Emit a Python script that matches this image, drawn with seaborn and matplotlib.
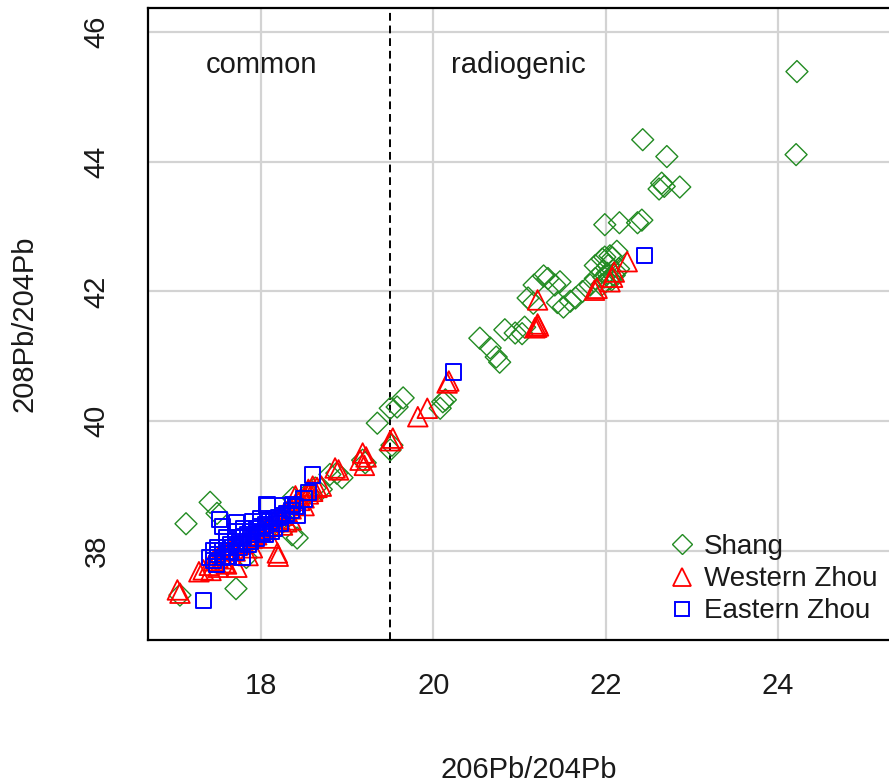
import matplotlib
matplotlib.use("Agg")
import matplotlib.pyplot as plt
import seaborn as sns
import pandas as pd
from matplotlib.lines import Line2D

# ---------------- data ----------------
shang_x = [17.41, 17.13, 17.06, 17.71, 17.49, 17.83, 18.36, 18.42, 17.95, 18.10,
           18.25, 18.37, 18.63, 18.88, 18.94, 18.80, 19.21, 19.18, 19.50, 19.52,
           19.35, 19.50, 19.58, 19.65, 20.08, 20.11, 20.14, 18.55, 18.70,
           20.54, 20.66, 20.73, 20.77, 20.83, 20.95, 21.03, 21.06, 21.10, 21.17,
           21.28, 21.33, 21.41, 21.47, 21.44, 21.51, 21.59, 21.65, 21.73, 21.82,
           21.88, 21.96, 22.03, 22.08, 21.88, 21.96, 21.16,
           22.00, 22.05, 22.10, 22.12, 22.15, 21.95, 22.02, 22.07, 21.98,
           21.99, 22.16, 22.37, 22.42, 21.99, 22.13, 22.05,
           22.43, 22.71, 22.65, 22.68, 22.86, 22.62, 24.22, 24.21]
shang_y = [38.75, 38.42, 37.32, 37.42, 38.58, 37.90, 38.25, 38.20, 38.20, 38.35,
           38.50, 38.82, 38.97, 39.20, 39.13, 39.18, 39.36, 39.40, 39.56, 39.63,
           39.97, 40.20, 40.22, 40.36, 40.20, 40.30, 40.33, 38.90, 38.95,
           41.28, 41.13, 40.99, 40.91, 41.41, 41.36, 41.35, 41.45, 41.90, 42.10,
           42.24, 42.20, 42.10, 42.15, 41.83, 41.76, 41.85, 41.90, 42.00, 42.10,
           42.20, 42.30, 42.40, 42.52, 42.40, 42.50, 41.82,
           42.15, 42.20, 42.25, 42.30, 42.35, 42.10, 42.28, 42.18, 42.22,
           43.03, 43.06, 43.06, 43.10, 42.53, 42.62, 42.55,
           44.34, 44.08, 43.67, 43.62, 43.61, 43.58, 45.39, 44.11]

wzhou_x = [17.03, 17.06, 17.33, 17.28, 17.72, 17.85, 18.19, 18.20,
           17.40, 17.45, 17.50, 17.55, 17.60, 17.65, 17.70, 17.75, 17.80, 17.85,
           17.90, 17.95, 18.00, 18.05, 18.10, 18.15, 18.20, 18.25, 18.30, 18.35,
           18.40, 18.45, 18.50, 18.55, 18.60, 18.65, 18.70, 18.55, 18.60, 18.50,
           18.30, 18.10, 17.90, 17.60, 17.50, 18.40, 18.25, 17.42, 17.58, 18.35,
           18.86, 19.18, 19.22, 19.15, 19.20, 18.90, 19.53, 19.50, 19.82, 19.93,
           20.16, 20.18,
           21.21, 21.20, 21.22, 21.18, 21.21, 21.87, 21.90, 22.08, 22.05, 22.25, 22.10]
wzhou_y = [37.40, 37.35, 37.71, 37.68, 37.75, 37.93, 37.97, 37.92,
           37.78, 37.85, 37.90, 37.88, 37.95, 38.02, 38.00, 38.10, 38.12, 38.18,
           38.20, 38.25, 38.30, 38.35, 38.38, 38.45, 38.50, 38.55, 38.60, 38.65,
           38.72, 38.78, 38.82, 38.88, 38.92, 38.98, 39.00, 38.95, 39.00, 38.70,
           38.45, 38.20, 38.05, 37.80, 37.75, 38.85, 38.40, 37.70, 37.82, 38.48,
           39.28, 39.51, 39.45, 39.40, 39.32, 39.25, 39.74, 39.70, 40.07, 40.20,
           40.59, 40.62,
           41.87, 41.45, 41.47, 41.44, 41.50, 42.02, 42.05, 42.22, 42.15, 42.46, 42.30]

ezhou_x = [17.33, 17.52, 17.72, 17.55, 18.07, 17.78, 18.60, 18.08, 18.37, 18.55,
           18.42, 22.45, 20.23,
           17.45, 17.50, 17.55, 17.50, 17.60, 17.65, 17.70, 17.75, 17.80, 17.85,
           17.90, 17.95, 18.00, 18.05, 18.10, 18.15, 18.20, 18.25, 18.30, 18.35,
           18.40, 17.60, 17.70, 17.80, 17.55, 17.65, 17.75, 17.85, 17.95, 18.05,
           18.00, 17.90, 17.45, 17.40, 18.15, 18.25, 18.50, 17.48, 17.62, 17.72,
           17.88, 18.02, 18.12, 18.22]
ezhou_y = [37.24, 38.48, 38.44, 38.38, 38.71, 37.90, 39.17, 38.70, 38.72, 38.90,
           38.55, 42.56, 40.76,
           37.85, 37.95, 38.00, 38.05, 38.05, 38.10, 38.15, 38.20, 38.22, 38.25,
           38.30, 38.35, 38.38, 38.40, 38.45, 38.50, 38.52, 38.55, 38.58, 38.62,
           38.68, 38.20, 38.30, 38.35, 37.90, 38.00, 38.05, 38.10, 38.20, 38.25,
           38.50, 38.45, 38.00, 37.90, 38.35, 38.70, 38.80, 37.80, 37.92, 37.98,
           38.15, 38.28, 38.30, 38.42]

groups = ["Shang", "Western Zhou", "Eastern Zhou"]
colors = {"Shang": "#228B22", "Western Zhou": "#FF0000", "Eastern Zhou": "#0000FF"}
markers = {"Shang": "D", "Western Zhou": "^", "Eastern Zhou": "s"}
sizes = {"Shang": 125, "Western Zhou": 200, "Eastern Zhou": 120}
widths = {"Shang": 1.0, "Western Zhou": 1.3, "Eastern Zhou": 1.4}

df = pd.concat([
    pd.DataFrame({"x": shang_x, "y": shang_y, "period": "Shang"}),
    pd.DataFrame({"x": wzhou_x, "y": wzhou_y, "period": "Western Zhou"}),
    pd.DataFrame({"x": ezhou_x, "y": ezhou_y, "period": "Eastern Zhou"}),
])

sns.set_style("white")
plt.rcParams["font.family"] = ["Liberation Sans", "DejaVu Sans"]

fig = plt.figure(figsize=(8.89, 7.84), dpi=100)
ax = fig.add_axes([148 / 889, 144 / 784, (910 - 148) / 889, 632 / 784])

for g in groups:
    sub = df[df["period"] == g]
    sns.scatterplot(data=sub, x="x", y="y", ax=ax, marker=markers[g],
                    color=colors[g], facecolors="none", edgecolor=colors[g],
                    linewidth=widths[g], s=sizes[g], legend=False, zorder=3)

ax.set_xlim(16.689, 25.532)
ax.set_ylim(36.628, 46.370)
ax.set_xticks([18, 20, 22, 24])
ax.set_yticks([38, 40, 42, 44, 46])
ax.grid(True, color="#d3d3d3", linewidth=1.6)
ax.set_axisbelow(True)

ax.axvline(19.5, color="black", linestyle=(0, (4, 2.5)), linewidth=1.4, zorder=2)

for sp in ax.spines.values():
    sp.set_color("black")
    sp.set_linewidth(1.6)

ax.tick_params(axis="both", direction="out", length=13, width=1.3,
               labelsize=21, color="black", labelcolor="#1a1a1a")
ax.tick_params(axis="x", pad=10)
ax.tick_params(axis="y", pad=14)
for lab in ax.get_yticklabels():
    lab.set_rotation(90)
    lab.set_va("center")

ax.set_xlabel("206Pb/204Pb", fontsize=21, color="#1a1a1a", labelpad=40)
ax.set_ylabel("208Pb/204Pb", fontsize=21, color="#1a1a1a", labelpad=32)

ax.text(18.01, 45.49, "common", fontsize=21, ha="center", va="center", color="#1a1a1a")
ax.text(20.99, 45.49, "radiogenic", fontsize=21, ha="center", va="center", color="#1a1a1a")

handles = [Line2D([0], [0], linestyle="none", marker=markers[g],
                  markersize=(sizes[g] ** 0.5) * 0.95,
                  markerfacecolor="none", markeredgecolor=colors[g],
                  markeredgewidth=widths[g])
           for g in groups]
leg = ax.legend(handles, groups, loc="upper left", bbox_to_anchor=(0.664, 0.185),
                frameon=False, fontsize=20, handletextpad=0.2, labelspacing=0.22,
                handlelength=1.2, borderaxespad=0)
for t in leg.get_texts():
    t.set_color("#1a1a1a")

fig.savefig("out.png", dpi=100)
